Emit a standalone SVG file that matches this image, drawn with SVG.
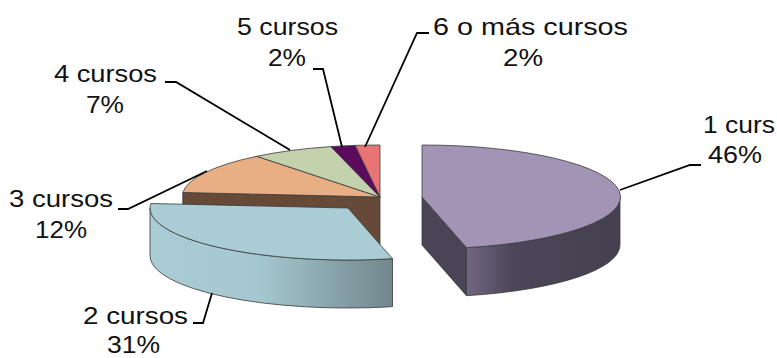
<svg xmlns="http://www.w3.org/2000/svg" width="777" height="358" viewBox="0 0 777 358">
  <defs>
    <linearGradient id="gBlue" gradientUnits="userSpaceOnUse" x1="150" y1="0" x2="393" y2="0">
      <stop offset="0" stop-color="#A9CCD5"/>
      <stop offset="0.45" stop-color="#A5C7D0"/>
      <stop offset="1" stop-color="#71878C"/>
    </linearGradient>
    <linearGradient id="gPurple" gradientUnits="userSpaceOnUse" x1="466" y1="0" x2="620" y2="0">
      <stop offset="0" stop-color="#716881"/>
      <stop offset="0.3" stop-color="#4D4659"/>
      <stop offset="1" stop-color="#45404F"/>
    </linearGradient>
  </defs>
  <style>
    .edge { stroke: #3A3A3A; stroke-width: 0.8; stroke-linejoin: round; }
    .lbl { font-family: "Liberation Sans", Arial, sans-serif; font-size: 24px; fill: #111111; }
    .lead { fill: none; stroke: #000000; stroke-width: 1.8; }
  </style>
  <rect width="777" height="358" fill="#FFFFFF"/>

  <g id="slice-3-cursos">
    <path class="edge" fill="#664A37" d="M380,197 L182.8,192.5 L182.8,240.5 L380,245 Z"/>
    <path class="edge" fill="#E7AF83" d="M380,197 L182.8,192.5 A198,52 0 0,1 256.7,156.3 Z"/>
    <text class="lbl" x="9" y="207" textLength="104" lengthAdjust="spacingAndGlyphs">3 cursos</text>
    <text class="lbl" x="35" y="238" textLength="52" lengthAdjust="spacingAndGlyphs">12%</text>
  </g>
  <g id="slice-4-cursos">
    <path class="edge" fill="#C4D1AD" d="M380,197 L256.7,156.3 A198,52 0 0,1 330.8,146.6 Z"/>
    <text class="lbl" x="54" y="82" textLength="103" lengthAdjust="spacingAndGlyphs">4 cursos</text>
    <text class="lbl" x="86" y="113" textLength="38" lengthAdjust="spacingAndGlyphs">7%</text>
  </g>
  <g id="slice-5-cursos">
    <path class="edge" fill="#5C0A5D" d="M380,197 L330.8,146.6 A198,52 0 0,1 355.2,145.4 Z"/>
    <text class="lbl" x="237" y="35" textLength="101" lengthAdjust="spacingAndGlyphs">5 cursos</text>
    <text class="lbl" x="268" y="66" textLength="38" lengthAdjust="spacingAndGlyphs">2%</text>
  </g>
  <g id="slice-6-o-mas-cursos">
    <path class="edge" fill="#E97474" d="M380,197 L355.2,145.4 A198,52 0 0,1 380,145 Z"/>
    <text class="lbl" x="433" y="35" textLength="195" lengthAdjust="spacingAndGlyphs">6 o más cursos</text>
    <text class="lbl" x="503" y="66" textLength="40" lengthAdjust="spacingAndGlyphs">2%</text>
  </g>
  <g id="slice-2-cursos">
    <path class="edge" fill="url(#gBlue)" d="M392.5,258.7 A198,52 0 0,1 150,208 L150,256 A198,52 0 0,0 392.5,306.7 Z"/>
    <path class="edge" fill="#A9CCD5" d="M348,208 L392.5,258.7 A198,52 0 0,1 150.8,203.5 Z"/>
    <text class="lbl" x="83" y="324" textLength="105" lengthAdjust="spacingAndGlyphs">2 cursos</text>
    <text class="lbl" x="107" y="353" textLength="53" lengthAdjust="spacingAndGlyphs">31%</text>
  </g>
  <g id="slice-1-curso">
    <path class="edge" fill="#4A4457" d="M422,197 L466.5,247.7 L466.5,295.7 L422,245 Z"/>
    <path class="edge" fill="url(#gPurple)" d="M620,197 A198,52 0 0,1 466.5,247.7 L466.5,295.7 A198,52 0 0,0 620,245 Z"/>
    <path class="edge" fill="#A294B5" d="M422,197 L422,145 A198,52 0 0,1 466.5,247.7 Z"/>
    <text class="lbl" x="703" y="133" textLength="72" lengthAdjust="spacingAndGlyphs">1 curs</text>
    <text class="lbl" x="708" y="163" textLength="54" lengthAdjust="spacingAndGlyphs">46%</text>
  </g>

  <g id="connectors">
    <path class="lead" d="M620,190 L690,165 L701,165"/>
    <path class="lead" d="M193,323 L203,323 L212,293"/>
    <path class="lead" d="M118,209 L128,209 L207,171"/>
    <path class="lead" d="M165,82 L176,82 L290,150"/>
    <path class="lead" d="M313,69 L323,69 L342,147"/>
    <path class="lead" d="M429,33 L417,33 L365,147"/>
  </g>
</svg>
